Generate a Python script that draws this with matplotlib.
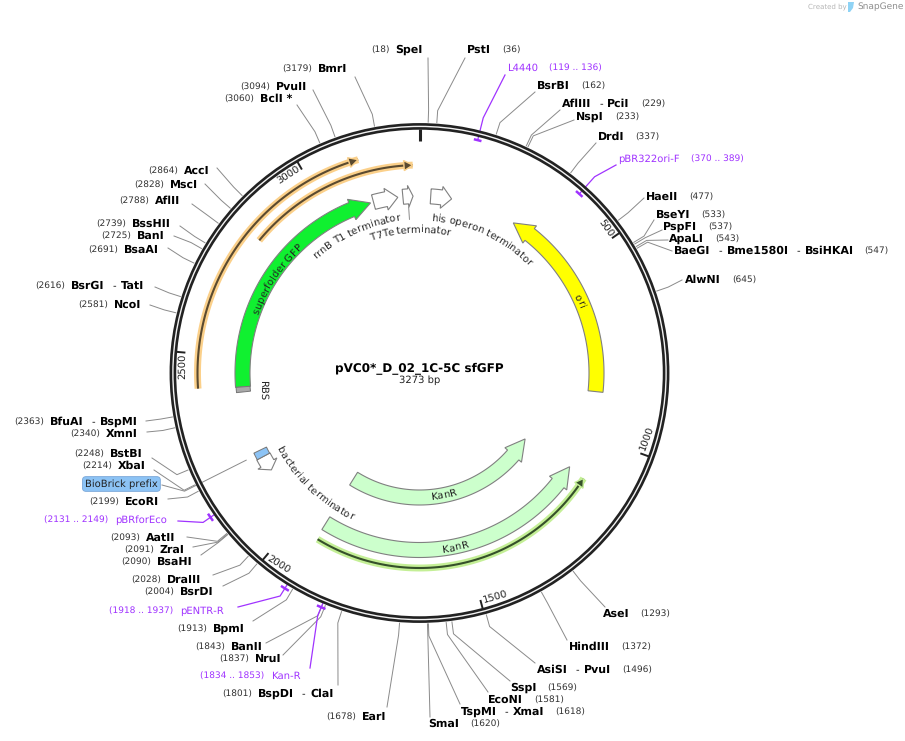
import numpy as np
import matplotlib
matplotlib.use("Agg")
import matplotlib.pyplot as plt
from matplotlib.patches import Polygon, Circle

plt.rcParams["font.family"] = ["DejaVu Sans"]
plt.rcParams["text.hinting"] = "no_hinting"
plt.rcParams["text.hinting_factor"] = 1

# plasmid
plasmid_name = "pVC0*_D_02_1C-5C sfGFP"
plasmid_size = 3273

# restriction sites
site_names = ["SpeI", "PstI", "BsrBI", "AflIII - PciI", "NspI", "DrdI", "HaeII", "BseYI", "PspFI", "ApaLI",
              "BaeGI - Bme1580I - BsiHKAI", "AlwNI", "AseI", "HindIII", "AsiSI - PvuI", "SspI", "EcoNI",
              "TspMI - XmaI", "SmaI", "EarI", "BspDI - ClaI", "NruI", "BanII", "BpmI", "BsrDI", "DraIII",
              "BsaHI", "ZraI", "AatII", "EcoRI", "XbaI", "BstBI", "XmnI", "BfuAI - BspMI", "NcoI",
              "BsrGI - TatI", "BsaAI", "BanI", "BssHII", "AflII", "MscI", "AccI", "BclI *", "PvuII", "BmrI"]
site_pos = [18, 36, 162, 229, 233, 337, 477, 533, 537, 543,
            547, 645, 1293, 1372, 1496, 1569, 1581,
            1618, 1620, 1678, 1801, 1837, 1843, 1913, 2004, 2028,
            2090, 2091, 2093, 2199, 2214, 2248, 2340, 2363, 2581,
            2616, 2691, 2725, 2739, 2788, 2828, 2864, 3060, 3094, 3179]

# where each row of text starts and where its leader stops
row_x = [371, 467, 537, 562, 576, 598, 646, 656, 663, 669,
         674, 685, 603, 569, 537, 510, 488,
         461, 428, 326, 222, 219, 195, 177, 144, 131,
         121, 124, 110, 89, 82, 74, 70, 14, 78,
         35, 88, 101, 96, 119, 134, 148, 224, 240, 282]
row_y = [50, 50, 86, 104, 117, 137, 197, 215, 227, 239,
         251, 280, 614, 647, 670, 688, 700,
         712, 724, 717, 694, 659, 647, 629, 592, 580,
         562, 550, 538, 502, 466, 454, 434, 422, 305,
         286, 250, 236, 224, 201, 185, 171, 99, 87, 69]
end_x = [428, 465, 535, 560, 574, 596, 644, 654, 662, 668,
         672, 682, 605, 567, 535, 510, 488,
         460, 430, 387, 338, 283, 266, 253, 223, 213,
         201, 193, 187, 168, 154, 152, 147, 146, 150,
         155, 168, 174, 180, 192, 205, 217, 297, 313, 355]
end_y = [58, 58, 92, 110, 120, 143, 198, 220, 230, 240,
         251, 280, 607, 640, 663, 681, 692,
         704, 717, 707, 685, 655, 643, 621, 586, 575,
         555, 547, 537, 499, 470, 458, 432, 421, 305,
         287, 248, 236, 226, 204, 184, 168, 105, 90, 77]

# primers
primer_names = ["L4440", "pBR322ori-F", "pBRforEco", "pENTR-R", "Kan-R"]
primer_start = [119, 370, 2131, 1918, 1834]
primer_end = [136, 389, 2149, 1937, 1853]
primer_radius = [240, 240, 254, 254, 254]
primer_x = [507, 618, 44, 109, 200]
primer_y = [68, 159, 520, 611, 676]
primer_end_x = [505, 616, 178, 238, 310]
primer_end_y = [75, 165, 521, 607, 668]

# features
feature_names = ["ori", "superfolder GFP", "KanR", "KanR", "rrnB T1 terminator", "T7Te terminator",
                 "his operon terminator", "bacterial terminator"]
feature_start = [291, 2414, 1109, 1109, 3136, 3224, 33, 2153]
feature_end = [873, 3127, 1927, 1927, 3209, 3254, 95, 2199]
feature_direction = [-1, 1, -1, -1, 1, 1, 1, -1]
feature_radius = [177, 177, 124.5, 177, 177, 177, 177, 177]
feature_color = ["#ffff00", "#10f030", "#ccffcc", "#ccffcc", "#ffffff", "#ffffff", "#ffffff", "#ffffff"]

# thin translated features
thin_start = [2418, 2815, 1116]
thin_end = [3127, 3256, 1923]
thin_direction = [1, 1, -1]
thin_radius = [222, 208, 195]
thin_halo = ["#fbd08a", "#fbd08a", "#c4ef96"]
thin_line = ["#5a4a30", "#5a4a30", "#35502a"]

# ticks
tick_pos = [500, 1000, 1500, 2000, 2500, 3000]
tick_rot = [-55, 70, 16, -32, 90, 33]
tick_label_x = [606, 647, 495, 279, 182, 288]
tick_label_y = [228, 438, 597, 564, 366, 175]

CX, CY = 419.5, 373
GREY = "#8a8a8a"
PURPLE = "#a033ff"
TEXT = "#111111"
LABEL_SIZE = 7.4

fig = plt.figure(figsize=(9.05, 7.41), dpi=100)
ax = fig.add_axes([0, 0, 1, 1])
ax.set_xlim(0, 905)
ax.set_ylim(741, 0)
ax.axis("off")
renderer = fig.canvas.get_renderer()


def polar(bp, r):
    a = np.radians(np.asarray(bp) / plasmid_size * 360)
    return CX + r * np.sin(a), CY - r * np.cos(a)


def arc(bp1, bp2, r):
    x, y = polar(np.linspace(bp1, bp2, 80), r)
    return np.column_stack([x, y])


def text_width(s, size, weight="normal"):
    t = ax.text(0, 0, s, fontsize=size, fontweight=weight)
    w = t.get_window_extent(renderer).width
    t.remove()
    return w


def leader(bp, x, y, color=GREY, r0=251, lw=0.7, stub=263):
    px, py = polar(bp, np.array([r0, stub]))
    ax.plot([px[0], px[1], x], [py[0], py[1], y], color=color, lw=lw, zorder=1, solid_joinstyle="round")


def arrow_feature(bp1, bp2, direction, r, color, head_bp=None):
    half, flare = 7.5, 11
    if head_bp is None:
        head_bp = 20 / r / (2 * np.pi) * plasmid_size
    if direction > 0:
        body_from, body_to, tip = bp1, bp2 - head_bp, bp2
    else:
        body_from, body_to, tip = bp2, bp1 + head_bp, bp1
    pts = np.vstack([
        arc(body_from, body_to, r + half),
        np.array(polar(body_to, r + flare)).reshape(1, 2),
        np.array(polar(tip, r)).reshape(1, 2),
        np.array(polar(body_to, r - flare)).reshape(1, 2),
        arc(body_to, body_from, r - half),
    ])
    ax.add_patch(Polygon(pts, closed=True, facecolor=color, edgecolor="#808080", lw=0.8, zorder=3))


def curved_text(s, bp, r, size, inward=False, color="#222222"):
    # one glyph at a time so the label follows the circle, widths taken big to avoid pixel rounding
    big = size * 10
    bar = text_width("|", big)
    total = (text_width(s + "|", big) - bar) / 10
    for i, ch in enumerate(s):
        before = (text_width(s[:i] + "|", big) - bar) / 10
        own = (text_width(ch + "|", big) - bar) / 10
        d = (before + own / 2 - total / 2) / r / (2 * np.pi) * plasmid_size
        b = bp - d if inward else bp + d
        # baseline sits off the centre radius so the glyph body is on it
        x, y = polar(b, r + 3.5 if inward else r - 3.5)
        deg = b / plasmid_size * 360
        rot = 180 - deg if inward else -deg
        ax.text(x, y, ch, fontsize=size, rotation=rot, rotation_mode="anchor", ha="center", va="baseline",
                color=color, zorder=5)


def draw_row(x, y, pieces):
    for s, size, weight, color, gap in pieces:
        ax.text(x, y, s, fontsize=size, fontweight=weight, color=color, ha="left", va="center", zorder=5)
        x += text_width(s, size, weight) + gap


# leaders for the sites, ring goes on top of them
for i, name in enumerate(site_names):
    leader(site_pos[i], end_x[i], end_y[i])
    pos_text = "(%d)" % site_pos[i]
    parts = name.split(" - ")
    name_pieces = []
    for j, part in enumerate(parts):
        if j > 0:
            name_pieces.append(("-", 7.3, "normal", TEXT, 4.5))
        name_pieces.append((part, 7.6, "bold", "black", 8))
    left_side = site_pos[i] > 1650 or name == "SpeI"
    if left_side:
        pieces = [(pos_text, 6.8, "normal", "#333333", 6)] + name_pieces
    else:
        pieces = name_pieces + [(pos_text, 6.8, "normal", "#333333", 0)]
        pieces[-2] = pieces[-2][:4] + (11,)
    draw_row(row_x[i], row_y[i], pieces)

# primers
for i, name in enumerate(primer_names):
    mid = (primer_start[i] + primer_end[i]) / 2
    leader(mid, primer_end_x[i], primer_end_y[i], color=PURPLE, r0=min(primer_radius[i], 250), lw=0.9)
    bar = arc(primer_start[i], primer_end[i], primer_radius[i])
    ax.plot(bar[:, 0], bar[:, 1], color=PURPLE, lw=1.8, zorder=4, solid_capstyle="butt")
    rng = "(%d .. %d)" % (primer_start[i], primer_end[i])
    if primer_start[i] > 1650:
        pieces = [(rng, 6.8, "normal", PURPLE, 7), (name, 7.3, "normal", PURPLE, 0)]
    else:
        pieces = [(name, 7.3, "normal", PURPLE, 11), (rng, 6.8, "normal", PURPLE, 0)]
    draw_row(primer_x[i], primer_y[i], pieces)

# BioBrick prefix label goes to the blue feature
leader(2212, 162, 485, r0=194)
ax.text(85, 484, "BioBrick prefix", fontsize=7.3, color="#222222", ha="left", va="center", zorder=5,
        bbox=dict(boxstyle="round,pad=0.25,rounding_size=0.35", facecolor="#8cc3f5", edgecolor="#7aa7d8", lw=0.6))

# T7Te label leader
lx, ly = polar(3239, np.array([166, 154]))
ax.plot(lx, ly, color=GREY, lw=0.7, zorder=1)

# backbone ring
ax.add_patch(Circle((CX, CY), 246.6, fill=False, edgecolor="#222222", lw=4.8, zorder=2))
ax.add_patch(Circle((CX, CY), 246.6, fill=False, edgecolor="#f2f2f2", lw=1.0, zorder=2))

# ticks
zx, zy = polar(0, np.array([232, 244]))
ax.plot(zx, zy, color="#222222", lw=2.2, zorder=3, solid_capstyle="butt")
for i, p in enumerate(tick_pos):
    tx, ty = polar(p, np.array([235, 244]))
    ax.plot(tx, ty, color="#222222", lw=1.4, zorder=3, solid_capstyle="butt")
    ax.text(tick_label_x[i], tick_label_y[i], str(p), fontsize=LABEL_SIZE, rotation=tick_rot[i], rotation_mode="anchor",
            ha="center", va="center", color="#222222", zorder=5)

# thin features with a halo
for i in range(len(thin_start)):
    line = arc(thin_start[i], thin_end[i], thin_radius[i])
    ax.plot(line[:, 0], line[:, 1], color=thin_halo[i], lw=5, zorder=3, solid_capstyle="butt")
    ax.plot(line[:, 0], line[:, 1], color=thin_line[i], lw=1.5, zorder=3, solid_capstyle="butt")
    tip = thin_end[i] if thin_direction[i] > 0 else thin_start[i]
    b = tip - 22 * thin_direction[i]
    head = np.array([polar(b, thin_radius[i] + 5), polar(tip, thin_radius[i]), polar(b, thin_radius[i] - 5)])
    ax.add_patch(Polygon(head, closed=True, facecolor=thin_line[i], edgecolor=thin_halo[i], lw=1, zorder=3))

# features
for i in range(len(feature_names)):
    head = None if i < 4 else (feature_end[i] - feature_start[i]) * 0.48
    arrow_feature(feature_start[i], feature_end[i], feature_direction[i], feature_radius[i], feature_color[i], head)

# RBS and BioBrick prefix blocks
rbs = np.vstack([arc(2399, 2414, 184), arc(2414, 2399, 170)])
ax.add_patch(Polygon(rbs, closed=True, facecolor="#a9a9a9", edgecolor="#777777", lw=0.7, zorder=4))
prefix = np.vstack([arc(2199, 2220, 184), arc(2220, 2199, 170)])
ax.add_patch(Polygon(prefix, closed=True, facecolor="#8cc3f5", edgecolor="#777777", lw=0.7, zorder=4))

# feature labels
curved_text("ori", 598, 176, LABEL_SIZE)
curved_text("superfolder GFP", 2757, 175, LABEL_SIZE)
curved_text("KanR", 1536, 124, LABEL_SIZE, inward=True)
curved_text("KanR", 1532, 177.5, LABEL_SIZE, inward=True)
curved_text("rrnB T1 terminator", 3048, 157, LABEL_SIZE)
curved_text("T7Te terminator", 3237, 144, LABEL_SIZE)
curved_text("his operon terminator", 225, 156, LABEL_SIZE)
curved_text("bacterial terminator", 2033, 158, LABEL_SIZE, inward=True)
rx, ry = polar(2397, 158)
ax.text(rx, ry, "RBS", fontsize=LABEL_SIZE, rotation=-90, ha="center", va="center", color="#222222", zorder=5)

# centre title
ax.text(CX, 368, plasmid_name, fontsize=8.3, fontweight="bold", ha="center", va="center", color="black")
ax.text(CX, 380, "%d bp" % plasmid_size, fontsize=LABEL_SIZE, ha="center", va="center", color="#222222")

# SnapGene mark
ax.text(808, 7, "Created by", fontsize=5.2, color="#b5b5b5", ha="left", va="center")
ax.add_patch(Polygon([(848, 2), (854, 2), (853, 8), (850, 12), (848, 12)], closed=True, facecolor="#8fd3f5", edgecolor="none"))
ax.text(857, 7, "SnapGene", fontsize=6.2, color="#8c8c8c", ha="left", va="center")

fig.savefig("out.png", dpi=100)
